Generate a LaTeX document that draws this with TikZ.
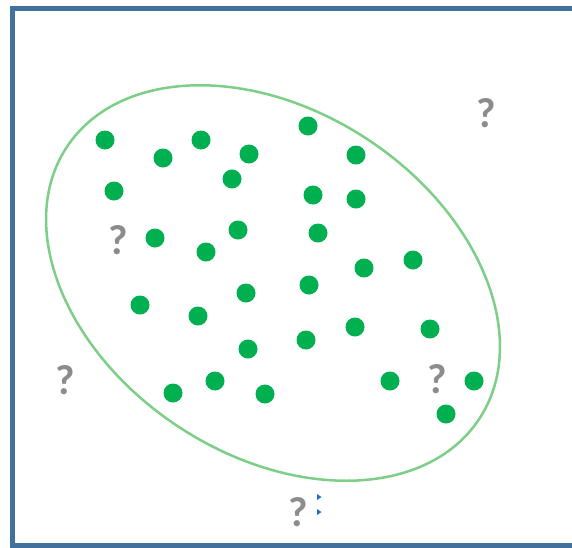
\documentclass[tikz,border=0pt]{standalone}
\usepackage{fontspec}
\newfontfamily\qfont{Carlito}
\definecolor{framecol}{RGB}{65,113,156}
\definecolor{dotcol}{RGB}{0,176,80}
\definecolor{ellcol}{RGB}{125,207,135}
\definecolor{qcol}{RGB}{140,140,140}
\definecolor{tricol}{RGB}{30,110,200}
\begin{document}
\begin{tikzpicture}[x=1pt,y=-1pt,
  dot/.style={circle,fill=dotcol,minimum size=19pt,inner sep=0pt},
  qmark/.style={text=qcol,font=\qfont\bfseries\fontsize{42}{42}\selectfont,inner sep=0pt},
  tri/.style={fill=tricol,draw=none}]
\useasboundingbox (0,0) rectangle (572,547);
\fill[white] (0,0) rectangle (572,547);
% frame
\draw[framecol,line width=5pt] (580,8.5) -- (12,8.5) -- (12,545) -- (580,545);
% ellipse
\draw[ellcol,line width=2.5pt,rotate around={-33.4:(273,283)}] (273,283) ellipse [x radius=247, y radius=172];
% dots
\foreach \n/\x/\y in {1/105/140, 2/163/158, 3/201/140, 4/249/154, 5/308/126, 6/356/155,
  7/114/191, 8/232/179, 9/313/195, 10/356/199, 11/155/238, 12/238/230, 13/206/252,
  14/318/233, 15/364/268, 16/413/260, 17/140/305, 18/198/316, 19/246/293, 20/309/285,
  21/355/327, 22/430/329, 23/248/349, 24/306/340, 25/173/393, 26/215/381, 27/265/394,
  28/390/381, 29/474/381, 30/446/414}
  \node[dot] (d\n) at (\x,\y) {};
% question marks
\node[qmark] (q1) at (486,113) {?};
\node[qmark] (q2) at (118,240) {?};
\node[qmark] (q3) at (65,380) {?};
\node[qmark] (q4) at (437,379) {?};
\node[qmark] (q5) at (298,512) {?};
% small markers
\fill[tri] (317,494) -- (321.5,497) -- (317,500) -- cycle;
\fill[tri] (317,509) -- (321.5,512) -- (317,515) -- cycle;
\end{tikzpicture}
\end{document}
